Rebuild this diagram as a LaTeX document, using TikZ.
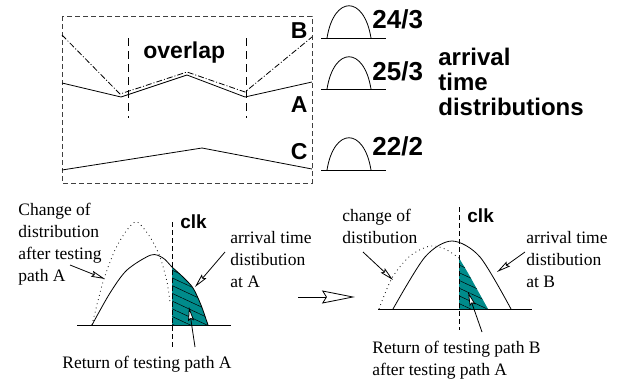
\documentclass[tikz,border=0pt]{standalone}
\usepackage{fontspec}
\setmainfont{Liberation Serif}
\setsansfont{Liberation Sans}
\usepackage{tikz}
\usetikzlibrary{arrows.meta,patterns.meta}
\definecolor{hatchteal}{RGB}{0,139,139}
\tikzset{big label/.style={font=\sffamily\bfseries\fontsize{23}{25}\selectfont,inner sep=0pt},
}

\begin{document}
\begin{tikzpicture}[x=1pt,y=-1pt,line width=0.8pt,
		>={Stealth[length=14pt,width=6pt,inset=2pt,fill=white]},
		note/.style={font=\fontsize{17.5}{22}\selectfont,align=left,inner sep=0pt},
		clk label/.style={font=\sffamily\bfseries\fontsize{19}{21}\selectfont,inner sep=0pt},
		frame line/.style={dash pattern=on 5pt off 3pt,draw=black!75},
		overlap line/.style={dash pattern=on 8pt off 5pt},
		clk line/.style={dash pattern=on 5pt off 3pt},
		path b/.style={dash pattern=on 6pt off 2pt on 1pt off 2pt},
		dot curve/.style={dash pattern=on 0.8pt off 3.5pt},
		hatch/.style={preaction={fill=hatchteal},pattern={Lines[angle=-25,distance=7pt,line width=0.5pt]}}]
		
		\useasboundingbox (0,0) rectangle (619,383);
		
		% paths A, B and C
		\draw[frame line] (62,16) rectangle (312,183);
		\draw[overlap line] (128,38) -- (128,118);
		\draw[overlap line] (246,38) -- (246,118);
		\draw (62,83) -- (121,97) -- (187,75) -- (245,97) -- (312,82);
		\draw[path b] (62,35) -- (120,94) -- (187,72) -- (245,92) -- (312,37);
		\draw (62,170) -- (202,148) -- (312,169);
		
		\node[big label,anchor=base west] (ovl) at (143,58) {overlap};
		\node[big label,anchor=base east] (B) at (308,38) {B};
		\node[big label,anchor=base east] (A) at (308,112) {A};
		\node[big label,anchor=base east] (C) at (308,159) {C};
		
		% small distributions
		\foreach \y in {38,89,170}
		{
			\draw (321,\y) -- (386,\y);
			\draw (327,\y) .. controls (334,\y-43) and (364,\y-43) .. (371,\y);
		}
		\node[big label,font=\sffamily\bfseries\fontsize{26}{28}\selectfont,anchor=base west] (b num) at (372,28) {24/3};
		\node[big label,font=\sffamily\bfseries\fontsize{26}{28}\selectfont,anchor=base west] (a num) at (372,80) {25/3};
		\node[big label,font=\sffamily\bfseries\fontsize{26}{28}\selectfont,anchor=base west] (c num) at (372,155) {22/2};
		\node[big label,font=\sffamily\bfseries\fontsize{24}{25}\selectfont,align=left,anchor=base west] (atd) at (438,115) {arrival\\time\\distributions};
		
		% left distribution
		\draw (77,325) -- (231,325);
		\path[hatch] plot[smooth] coordinates {(172,267) (183,277) (193,288) (201,305) (208,325)} -- (172,325) -- cycle;
		\draw plot[smooth] coordinates {(92,325) (110,293) (127,270) (151,255) (163,258) (172,267) (183,277) (193,288) (201,305) (208,325)};
		\draw[dot curve] plot[smooth] coordinates {(92,325) (103,282) (115,250) (127,230) (137,222) (150,237) (160,257) (167,282) (170,302)};
		\coordinate (clk1 top) at (172,222);
		\coordinate (clk1 bot) at (172,347);
		\draw[clk line] (clk1 top) -- (clk1 bot);
		\node[clk label,anchor=base west] (clk1) at (180,228) {clk};
		
		\node[note,anchor=base west] (chg1) at (18,281) {Change of\\distribution\\after testing\\path A};
		\node[note,anchor=base west] (arr1) at (230,287) {arrival time\\distibution\\at A};
		\node[note,anchor=base west] (ret1) at (62,368) {Return of testing path A};
		
		\coordinate (p1) at (70,265);
		\coordinate (q1) at (105,279);
		\coordinate (p2) at (225,252);
		\coordinate (q2) at (195,287);
		\coordinate (p3) at (195,347);
		\coordinate (q3) at (189,307);
		\path (p1) edge[->] (q1)
		(p2) edge[->] (q2)
		(p3) edge[->] (q3);
		
		% step arrow
		\coordinate (m1) at (298,297);
		\coordinate (m2) at (355,297);
		\draw[-{Stealth[length=33pt,width=13pt,inset=4pt,fill=white]}] (m1) -- (m2);
		
		% right distribution
		\draw (378,309) -- (532,309);
		\path[hatch] plot[smooth] coordinates {(459,258) (468,273) (478,291) (488,309)} -- (459,309) -- cycle;
		\draw plot[smooth] coordinates {(393,309) (425,257) (452,241) (480,257) (511,309)};
		\draw[dot curve] plot[smooth] coordinates {(379,309) (392,278) (410,256) (430,246) (445,249) (459,258)};
		\coordinate (clk2 top) at (459,207);
		\coordinate (clk2 bot) at (459,330);
		\draw[clk line] (clk2 top) -- (clk2 bot);
		\node[clk label,anchor=base west] (clk2) at (467,222) {clk};
		
		\node[note,anchor=base west] (chg2) at (342,243) {change of\\distibution};
		\node[note,anchor=base west] (arr2) at (526,287) {arrival time\\distibution\\at B};
		\node[note,anchor=base west] (ret2) at (372,375) {Return of testing path B\\after testing path A};
		
		\coordinate (p4) at (363,252);
		\coordinate (q4) at (393,280);
		\coordinate (p5) at (525,252);
		\coordinate (q5) at (497,272);
		\coordinate (p6) at (482,332);
		\coordinate (q6) at (468,292);
		\path (p4) edge[->] (q4)
		(p5) edge[->] (q5)
		(p6) edge[->] (q6);
		
\end{tikzpicture}
\end{document}
